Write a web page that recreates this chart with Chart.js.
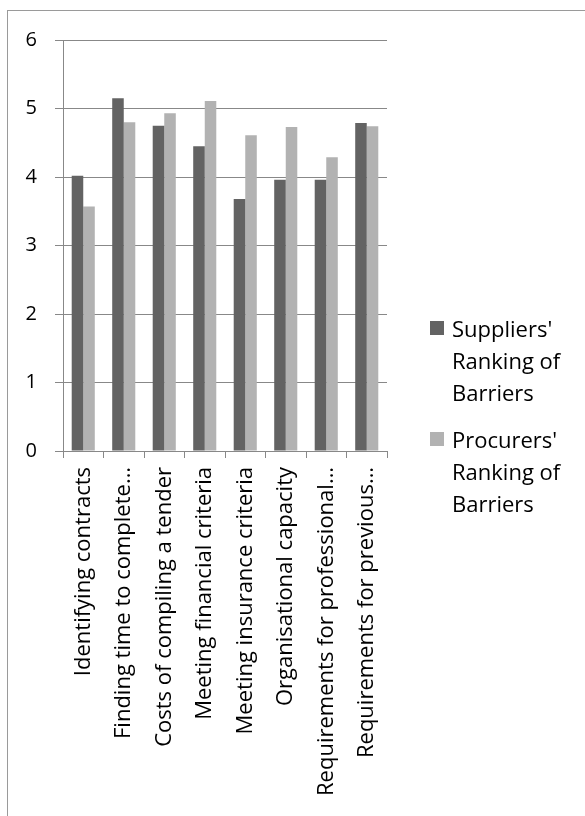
<!DOCTYPE html>
<html>
<head>
<meta charset="utf-8">
<script src="https://cdn.jsdelivr.net/npm/chart.js@4/dist/chart.umd.min.js"></script>
<style>
  html, body { margin: 0; padding: 0; background: #fff; overflow: hidden; }
  #wrap { position: relative; width: 585px; height: 816px; }
  #frame { position: absolute; left: 7px; top: 10px; width: 620px; height: 840px; border: 1px solid #9a9a9a; }
  #chart { position: absolute; left: 0; top: 0; }
  .legend { position: absolute; left: 430px; font-family: "Open Sans", sans-serif; font-size: 22px; line-height: 32px; color: #000; }
  .legend .sw { position: absolute; left: 0; top: 9px; width: 14px; height: 14px; }
  .legend .txt { margin-left: 22px; }
</style>
</head>
<body>
<div id="wrap">
  <div id="frame"></div>
  <canvas id="chart" width="585" height="816"></canvas>
  <div id="legend"></div>
</div>
<script>
// Barrier rankings: suppliers vs procurers

const categories = [
  'Identifying contracts',
  'Finding time to complete\u2026',
  'Costs of compiling a tender',
  'Meeting financial criteria',
  'Meeting insurance criteria',
  'Organisational capacity',
  'Requirements for professional\u2026',
  'Requirements for previous\u2026'
];
const suppliers = [4.02, 5.15, 4.75, 4.45, 3.68, 3.96, 3.96, 4.79];
const procurers = [3.57, 4.80, 4.93, 5.11, 4.61, 4.73, 4.29, 4.74];
const yTicks = [0, 1, 2, 3, 4, 5, 6];

const seriesNames = [
  ["Suppliers'", 'Ranking of', 'Barriers'],
  ["Procurers'", 'Ranking of', 'Barriers']
];
const colors = ['#636363', '#b2b2b2'];
const gridColor = '#888888';
const font = '"Open Sans", sans-serif';

new Chart(document.getElementById('chart'), {
  type: 'bar',
  data: {
    labels: categories,
    datasets: [
      { label: seriesNames[0].join(' '), data: suppliers, backgroundColor: colors[0] },
      { label: seriesNames[1].join(' '), data: procurers, backgroundColor: colors[1] }
    ]
  },
  options: {
    responsive: false,
    animation: false,
    devicePixelRatio: 1,
    categoryPercentage: 0.57,
    barPercentage: 1,
    layout: { padding: { top: 40, right: 198, bottom: 0, left: 0 } },
    plugins: { legend: { display: false }, tooltip: { enabled: false } },
    scales: {
      x: {
        grid: { drawOnChartArea: false, offset: true, color: gridColor, tickLength: 7 },
        border: { color: gridColor },
        ticks: { color: '#000', font: { family: font, size: 22 }, minRotation: 90, maxRotation: 90, padding: 9, autoSkip: false },
        afterFit: (s) => { s.height = 365; }
      },
      y: {
        min: 0,
        max: 6,
        afterBuildTicks: (s) => { s.ticks = yTicks.map(v => ({ value: v })); },
        grid: { color: gridColor, tickLength: 8 },
        border: { color: gridColor },
        ticks: { color: '#000', font: { family: font, size: 20 }, padding: 18 },
        afterFit: (s) => { s.width = 63; }
      }
    }
  }
});

// legend as real text, one block per series
const legendEl = document.getElementById('legend');
const legendTops = [312, 423];
seriesNames.forEach((lines, i) => {
  const d = document.createElement('div');
  d.className = 'legend';
  d.style.top = legendTops[i] + 'px';
  d.innerHTML = '<div class="sw" style="background:' + colors[i] + '"></div>' +
    '<div class="txt">' + lines.join('<br>') + '</div>';
  legendEl.appendChild(d);
});
</script>
</body>
</html>
